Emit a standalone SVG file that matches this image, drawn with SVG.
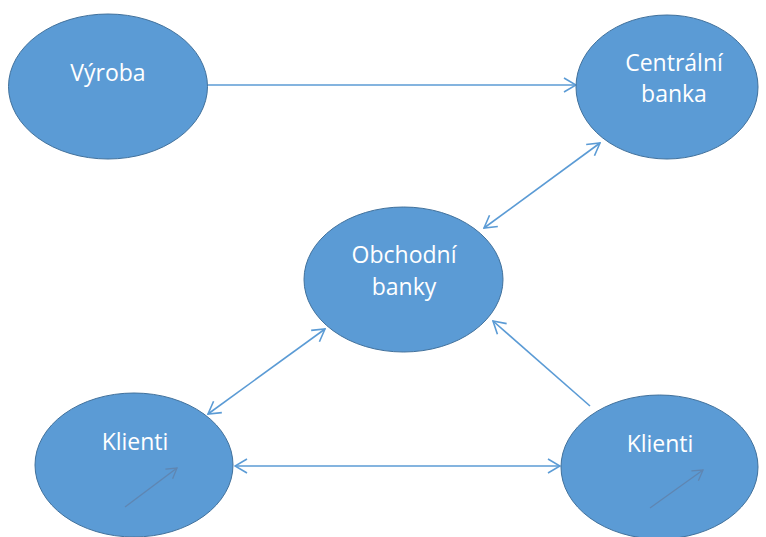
<svg xmlns="http://www.w3.org/2000/svg" width="766" height="537" viewBox="0 0 766 537">
<style>
.node ellipse{fill:#5b9bd5;stroke:#41719c;stroke-width:1}
.node text{font-family:"Open Sans","Liberation Sans",sans-serif;font-size:23px;fill:#ffffff;text-anchor:middle}
.conn line{stroke:#5b9bd5;stroke-width:1.6;fill:none}
.inner{stroke:#5f86b2;stroke-width:1.3;fill:none}
</style>
<defs>
<marker id="ah" viewBox="0 0 14 16" refX="13" refY="8" markerWidth="14" markerHeight="16" markerUnits="userSpaceOnUse" orient="auto-start-reverse">
<path d="M1,1 L13,8 L1,15" fill="none" stroke="#5b9bd5" stroke-width="1.6"/>
</marker>
<marker id="ah2" viewBox="0 0 12 14" refX="11" refY="7" markerWidth="12" markerHeight="14" markerUnits="userSpaceOnUse" orient="auto">
<path d="M1,1 L11,7 L1,13" fill="none" stroke="#5f86b2" stroke-width="1.3"/>
</marker>
</defs>
<rect width="766" height="537" fill="#ffffff"/>
<g id="connectors" class="conn">
<line x1="208" y1="85" x2="576" y2="85" marker-end="url(#ah)"/>
<line x1="484" y1="228" x2="600" y2="143" marker-start="url(#ah)" marker-end="url(#ah)"/>
<line x1="208" y1="414" x2="325" y2="329" marker-start="url(#ah)" marker-end="url(#ah)"/>
<line x1="590" y1="406" x2="493" y2="321" marker-end="url(#ah)"/>
<line x1="235" y1="466" x2="560" y2="466" marker-start="url(#ah)" marker-end="url(#ah)"/>
</g>
<g id="vyroba" class="node">
<ellipse cx="108" cy="86.5" rx="99.5" ry="72.5"/>
<text x="108" y="81">Výroba</text>
</g>
<g id="centralni-banka" class="node">
<ellipse cx="667" cy="87" rx="91" ry="72"/>
<text x="674" y="71">Centrální</text>
<text x="674" y="102">banka</text>
</g>
<g id="obchodni-banky" class="node">
<ellipse cx="403.5" cy="279.5" rx="99.5" ry="72.5"/>
<text x="404" y="263">Obchodní</text>
<text x="404" y="295">banky</text>
</g>
<g id="klienti-left" class="node">
<ellipse cx="134" cy="465" rx="99" ry="72"/>
<text x="135" y="450">Klienti</text>
<line class="inner" x1="125" y1="507" x2="177" y2="468" marker-end="url(#ah2)"/>
</g>
<g id="klienti-right" class="node">
<ellipse cx="659.5" cy="467" rx="98.5" ry="72"/>
<text x="660" y="452">Klienti</text>
<line class="inner" x1="650" y1="508" x2="703" y2="470" marker-end="url(#ah2)"/>
</g>
</svg>
